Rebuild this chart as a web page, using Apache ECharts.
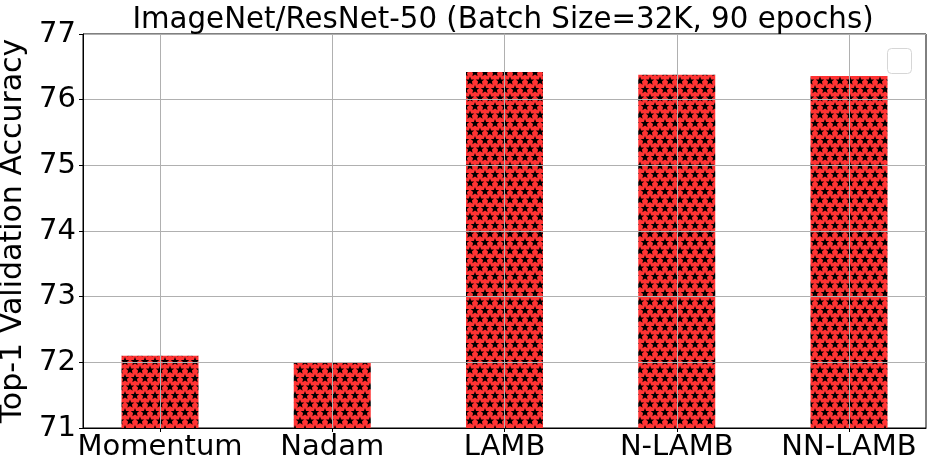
<!DOCTYPE html>
<html>
<head>
<meta charset="utf-8">
<script src="https://cdn.jsdelivr.net/npm/echarts@6/dist/echarts.min.js"></script>
<style>html,body{margin:0;padding:0;background:#fff}#c{width:927px;height:457px}</style>
</head>
<body>
<div id="c"></div>
<script>
var categories = ['Momentum', 'Nadam', 'LAMB', 'N-LAMB', 'NN-LAMB'];
var accuracy = [72.1, 72.0, 76.42, 76.38, 76.36];
var yTicks = [71, 72, 73, 74, 75, 76, 77];
var titleText = 'ImageNet/ResNet-50 (Batch Size=32K, 90 epochs)';
var yName = 'Top-1 Validation Accuracy';

function starPattern() {
  var w = 10, h = 17;
  var cv = document.createElement('canvas');
  cv.width = w; cv.height = h;
  var ctx = cv.getContext('2d');
  ctx.fillStyle = '#ff3333';
  ctx.fillRect(0, 0, w, h);
  ctx.fillStyle = '#000';
  function star(cx, cy, R, r) {
    ctx.beginPath();
    for (var i = 0; i < 10; i++) {
      var a = -Math.PI / 2 + i * Math.PI / 5;
      var rr = (i % 2 === 0) ? R : r;
      var x = cx + rr * Math.cos(a), y = cy + rr * Math.sin(a);
      if (i === 0) ctx.moveTo(x, y); else ctx.lineTo(x, y);
    }
    ctx.closePath();
    ctx.fill();
  }
  var R = 4.5, r = 2.0;
  var pts = [[5, 4.5], [0, 13], [10, 13], [5, 4.5 + h], [0, 13 - h], [10, 13 - h]];
  pts.forEach(function (p) { star(p[0], p[1], R, r); });
  return cv;
}

var FONT = 'DejaVu Sans';
var chart = echarts.init(document.getElementById('c'), null, {renderer: 'canvas'});
var idx = categories.map(function (_, i) { return i; });
chart.setOption({
  animation: false,
  backgroundColor: '#fff',
  title: {
    text: titleText, left: 498, top: 1, textAlign: 'center',
    textStyle: {fontFamily: FONT, fontSize: 29.3, fontWeight: 'normal', color: '#000'}
  },
  grid: {left: 83, right: 1, top: 34, bottom: 29, show: true, borderColor: '#000', borderWidth: 1, containLabel: false, outerBoundsMode: 'none'},
  xAxis: {
    type: 'value', min: -0.447, max: 4.447, z: 3,
    axisLine: {show: true, onZero: false, lineStyle: {color: '#000', width: 1}},
    axisTick: {show: true, inside: false, length: 4, customValues: idx, lineStyle: {color: '#000'}},
    axisLabel: {customValues: idx, margin: 5, fontFamily: FONT, fontSize: 29, color: '#000',
      formatter: function (v) { return categories[Math.round(v)]; }},
    splitLine: {show: true, lineStyle: {color: '#b0b0b0', width: 1}}
  },
  yAxis: {
    type: 'value', min: yTicks[0], max: yTicks[yTicks.length - 1], interval: 1, z: 3,
    name: yName, nameLocation: 'middle', nameGap: 30,
    nameTextStyle: {fontFamily: FONT, fontSize: 30, color: '#000', padding: [0, 0, 0, 0]},
    axisLine: {show: true, onZero: false, lineStyle: {color: '#000', width: 1}},
    axisTick: {show: true, inside: false, length: 4, lineStyle: {color: '#000'}},
    axisLabel: {margin: 7, fontFamily: FONT, fontSize: 29, color: '#000'},
    splitLine: {show: true, lineStyle: {color: '#b0b0b0', width: 1}}
  },
  series: [{
    type: 'bar', barWidth: 77, clip: true, z: 2,
    data: accuracy.map(function (v, i) { return [i, v]; }),
    itemStyle: {color: {image: starPattern(), repeat: 'repeat'}}
  }],
  graphic: [{
    type: 'rect', left: 887, top: 48, z: 10,
    shape: {width: 24, height: 25, r: 4},
    style: {fill: 'rgba(255,255,255,0.8)', stroke: '#d6d6d6', lineWidth: 1}
  }]
});
</script>
</body>
</html>
